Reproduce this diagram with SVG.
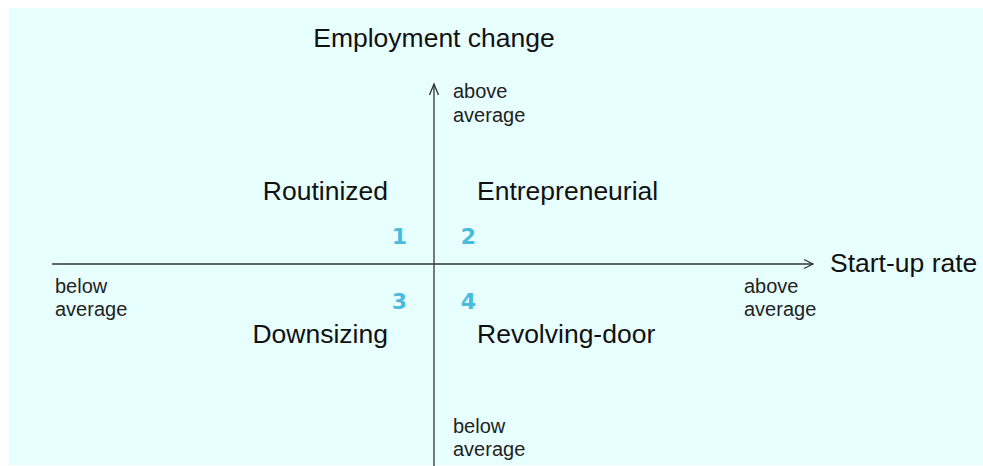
<svg xmlns="http://www.w3.org/2000/svg" width="983" height="466" viewBox="0 0 983 466">
<style>
.big{font-family:"Liberation Sans",Arial,sans-serif;font-size:26.5px;fill:#111}
.sm{font-family:"Liberation Sans",Arial,sans-serif;font-size:20px;fill:#222}
.num{font-family:"DejaVu Sans",Verdana,sans-serif;font-size:22px;font-weight:bold;fill:#4BBBDD}
.ax{stroke:#333;stroke-width:1.3;fill:none}
</style>
<rect x="0" y="0" width="983" height="466" fill="#ffffff"/>
<rect x="9" y="8" width="974" height="457" fill="#E8FFFF"/>
<g id="connectors">
<line class="ax" x1="52" y1="264" x2="813" y2="264"/>
<polyline class="ax" points="804,259.5 813,264 804,268.5"/>
<line class="ax" x1="434" y1="466" x2="434" y2="84"/>
<polyline class="ax" points="429.5,95 434,84 438.5,95"/>
</g>
<g id="axis-y-title"><text class="big" x="434" y="47" text-anchor="middle">Employment change</text></g>
<g id="axis-x-title"><text class="big" x="830" y="272">Start-up rate</text></g>
<g id="y-above"><text class="sm" x="453" y="98">above</text><text class="sm" x="453" y="122">average</text></g>
<g id="y-below"><text class="sm" x="453" y="433">below</text><text class="sm" x="453" y="456">average</text></g>
<g id="x-below"><text class="sm" x="55" y="293">below</text><text class="sm" x="55" y="316">average</text></g>
<g id="x-above"><text class="sm" x="744" y="293">above</text><text class="sm" x="744" y="316">average</text></g>
<g id="q1"><text class="big" x="388" y="200" text-anchor="end">Routinized</text><text class="num" x="399.5" y="244" text-anchor="middle">1</text></g>
<g id="q2"><text class="big" x="477" y="200">Entrepreneurial</text><text class="num" x="468.5" y="244" text-anchor="middle">2</text></g>
<g id="q3"><text class="big" x="388" y="343" text-anchor="end">Downsizing</text><text class="num" x="399.5" y="309" text-anchor="middle">3</text></g>
<g id="q4"><text class="big" x="477" y="343">Revolving-door</text><text class="num" x="468.5" y="309" text-anchor="middle">4</text></g>
</svg>
